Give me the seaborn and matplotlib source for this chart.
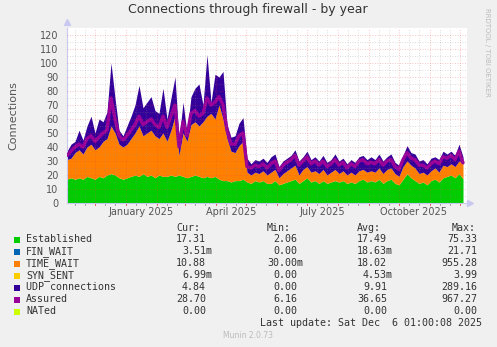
import numpy as np
import pandas as pd
import matplotlib
matplotlib.use("Agg")
import matplotlib.pyplot as plt
import seaborn as sns
from matplotlib.patches import Rectangle
from matplotlib.transforms import blended_transform_factory

# ---------------- data (4-day samples starting 2024-11-03) ----------------
start_date = "2024-11-03"
step_days = 4
established = [17, 18, 17, 18, 17, 19, 18, 17, 19, 18, 20, 21, 20, 18, 17, 18, 19, 20, 19, 21,
               19, 20, 18, 20, 19, 19, 20, 19, 20, 19, 18, 19, 20, 19, 18, 19, 18, 19, 17, 16,
               16, 15, 16, 16, 17, 15, 14, 16, 15, 16, 14, 14, 16, 13, 14, 15, 16, 17, 14, 16,
               18, 15, 16, 14, 16, 14, 15, 16, 15, 16, 14, 15, 14, 16, 17, 15, 16, 15, 17, 14,
               16, 17, 14, 13, 17, 21, 18, 16, 14, 15, 13, 16, 17, 15, 18, 19, 20, 18, 21, 17.3]
time_wait = [14, 14, 19, 20, 18, 21, 24, 21, 21, 26, 26, 34, 30, 24, 23, 24, 27, 30, 36, 27,
             31, 32, 30, 26, 31, 25, 32, 43, 14, 31, 26, 37, 38, 36, 40, 43, 46, 41, 53, 44,
             30, 22, 20, 25, 27, 7, 6, 6, 6, 7, 6, 8, 8, 5, 7, 8, 9, 10, 6, 8,
             8, 7, 7, 7, 8, 6, 7, 8, 6, 7, 6, 7, 6, 7, 7, 7, 7, 7, 8, 7,
             8, 8, 7, 6, 9, 9, 9, 9, 7, 7, 7, 7, 8, 7, 9, 7, 8, 8, 9, 10.9]
udp = [6, 10, 8, 14, 10, 15, 20, 12, 20, 14, 19, 45, 25, 10, 8, 13, 16, 20, 29, 20,
       22, 24, 18, 18, 32, 16, 23, 28, 11, 22, 6, 20, 24, 30, 12, 44, 8, 32, 20, 34,
       10, 10, 12, 16, 17, 10, 8, 9, 9, 9, 9, 11, 11, 8, 9, 9, 9, 11, 10, 9,
       11, 9, 10, 9, 10, 9, 9, 11, 9, 9, 8, 9, 9, 10, 10, 9, 10, 9, 10, 9,
       9, 10, 8, 8, 8, 11, 9, 10, 9, 9, 8, 9, 8, 9, 10, 9, 9, 8, 12, 4.8]
assured = [34, 37, 40, 42, 40, 46, 48, 44, 47, 50, 52, 75, 60, 48, 45, 48, 52, 56, 62, 56,
           58, 60, 56, 54, 62, 54, 62, 70, 40, 58, 48, 64, 66, 62, 64, 75, 70, 72, 76, 70,
           52, 42, 42, 48, 50, 26, 25, 27, 26, 28, 25, 28, 30, 23, 27, 29, 31, 34, 27, 30,
           33, 28, 30, 27, 30, 26, 28, 31, 27, 29, 25, 28, 26, 30, 31, 28, 29, 28, 31, 27,
           30, 31, 26, 24, 31, 36, 32, 31, 27, 27, 25, 28, 30, 28, 33, 32, 34, 31, 37, 28.7]

legend_names = ["Established", "FIN_WAIT", "TIME_WAIT", "SYN_SENT",
                "UDP connections", "Assured", "NATed"]
legend_colors = ["#00CC00", "#0066B3", "#FF8000", "#FFCC00", "#330099", "#990099", "#CCFF00"]
cur_vals = ["17.31", "3.51m", "10.88", "6.99m", "4.84", "28.70", "0.00"]
min_vals = ["2.06", "0.00", "30.00m", "0.00", "0.00", "6.16", "0.00"]
avg_vals = ["17.49", "18.63m", "18.02", "4.53m", "9.91", "36.65", "0.00"]
max_vals = ["75.33", "21.71", "955.28", "3.99", "289.16", "967.27", "0.00"]

y_ticks = list(range(0, 121, 10))
x_label_months = ["2025-01-16", "2025-04-16", "2025-07-16", "2025-10-16"]
x_label_texts = ["January 2025", "April 2025", "July 2025", "October 2025"]

# ---------------- figure ----------------
sns.set_style("white")
plt.rcParams["font.family"] = ["DejaVu Sans"]

W, H = 497, 347
fig = plt.figure(figsize=(W / 100, H / 100), dpi=100, facecolor="#F0F0F0")
ax = fig.add_axes([67 / W, 1 - 203 / H, 400 / W, 175 / H])
ax.set_facecolor("white")

dates = pd.date_range(start_date, periods=len(established), freq=f"{step_days}D")
x0 = pd.Timestamp(start_date)
x1 = x0 + pd.Timedelta(days=400)

ax.stackplot(dates, established, time_wait, udp,
             colors=[legend_colors[0], legend_colors[2], legend_colors[4]],
             linewidth=0, zorder=2)
sns.lineplot(x=dates, y=assured, color=legend_colors[5], lw=2.4, ax=ax, zorder=3)

ax.set_xlim(x0, x1)
ax.set_ylim(0, 125)

# grid (drawn on top like rrdtool)
major_c = (0.9, 0.25, 0.25, 0.4)
minor_c = (0.55, 0.55, 0.55, 0.4)
for y in range(5, 125, 5):
    ax.axhline(y, color=major_c if y % 10 == 0 else minor_c, lw=0.6,
               ls=(0, (1, 2)), zorder=4)
trans = blended_transform_factory(ax.transData, ax.transAxes)
for m in pd.date_range("2024-11-01", "2025-12-31", freq="MS"):
    for day, col in ((1, major_c), (11, minor_c), (21, minor_c)):
        d = m + pd.Timedelta(days=day - 1)
        if x0 < d < x1:
            ax.axvline(d, color=col, lw=0.6, ls=(0, (1, 2)), zorder=4)
            ax.plot([d, d], [0, -0.014], transform=trans, clip_on=False,
                    color=(0.9, 0.3, 0.3) if day == 1 else (0.6, 0.6, 0.6), lw=0.7)

# ticks & labels
ax.set_yticks(y_ticks)
ax.set_yticklabels([str(v) for v in y_ticks])
ax.set_xticks(pd.to_datetime(x_label_months))
ax.set_xticklabels(x_label_texts)
ax.tick_params(axis="both", length=0, labelsize=7, labelcolor="#555555", pad=3)
ax.tick_params(axis="y", pad=6)
ax.set_xlabel("")
ax.set_ylabel("Connections", fontsize=8, color="#555555", labelpad=16)

for s in ("top", "right"):
    ax.spines[s].set_visible(False)
for s in ("left", "bottom"):
    ax.spines[s].set_color("#C8C8F0")
    ax.spines[s].set_linewidth(0.8)
ax.plot([0], [1.035], marker="^", ms=4, color="#C8C8F0", transform=ax.transAxes, clip_on=False)
ax.plot([1.0075], [0], marker=">", ms=4, color="#C8C8F0", transform=ax.transAxes, clip_on=False)

# title and side text
fig.text(248 / W, 1 - 10 / H, "Connections through firewall - by year",
         ha="center", va="center", fontsize=9, color="#333333")
fig.text(487 / W, 1 - 8 / H, "RRDTOOL / TOBI OETIKER", rotation=270,
         ha="center", va="top", fontsize=5, color="#BBBBBB")

# legend
mono = dict(family="DejaVu Sans Mono", fontsize=7.2, color="#333333", va="center")
hdr_y = 228
for txt, xx in (("Cur:", 176), ("Min:", 267), ("Avg:", 357), ("Max:", 452)):
    fig.text(xx / W, 1 - hdr_y / H, txt, ha="left", **mono)

row_y = [239.5, 251.5, 263.5, 275.5, 287.5, 299.5, 311.5]
col_ends = [206, 297, 387, 477]
for i, name in enumerate(legend_names):
    yy = row_y[i]
    fig.patches.append(Rectangle((14 / W, 1 - (yy + 3) / H), 6 / W, 6 / H,
                                 transform=fig.transFigure, facecolor=legend_colors[i],
                                 edgecolor="none"))
    fig.text(26 / W, 1 - yy / H, name, ha="left", **mono)
    for vals, xe in zip((cur_vals, min_vals, avg_vals, max_vals), col_ends):
        v = vals[i]
        if v.endswith("m"):
            fig.text((xe + 6) / W, 1 - yy / H, v, ha="right", **mono)
        else:
            fig.text(xe / W, 1 - yy / H, v, ha="right", **mono)

fig.text(482 / W, 1 - 323.5 / H, "Last update: Sat Dec  6 01:00:08 2025",
         ha="right", **mono)
fig.text(248 / W, 1 - 336 / H, "Munin 2.0.73", ha="center", va="center",
         fontsize=5.5, color="#BBBBBB")

fig.savefig("out.png", dpi=100, facecolor=fig.get_facecolor())
